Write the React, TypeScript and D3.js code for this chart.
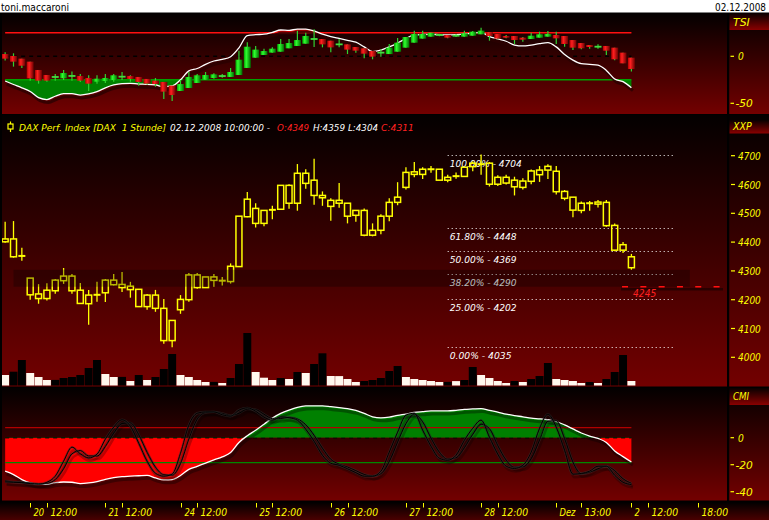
import React from "react";
import * as d3 from "d3";

const W = 769;
const H = 520;

// ---------- categories (hourly session slots) ----------
const days = ["2008-11-19", "2008-11-20", "2008-11-21", "2008-11-24", "2008-11-25", "2008-11-26", "2008-11-27", "2008-11-28", "2008-12-01", "2008-12-02"];
const sessionHours = ["10:00", "11:00", "12:00", "13:00", "14:00", "15:00", "16:00", "17:00", "18:00"];
const slots = days.flatMap((d) => sessionHours.map((h) => `${d} ${h}`)).slice(6);
const times = slots.slice(0, 76);

// ---------- price (DAX, 1h) ----------
const priceOpen = [4411, 4411, 4351, 4275, 4220, 4204, 4231, 4266, 4282, 4233, 4186, 4216, 4224, 4268, 4253, 4247, 4236, 4176, 4216, 4170, 4058, 4165, 4200, 4286, 4242, 4279, 4267, 4263, 4315, 4488, 4517, 4465, 4509, 4514, 4597, 4535, 4639, 4615, 4562, 4545, 4535, 4535, 4493, 4510, 4424, 4441, 4490, 4538, 4590, 4635, 4635, 4652, 4653, 4615, 4626, 4628, 4662, 4669, 4674, 4601, 4625, 4615, 4590, 4611, 4634, 4650, 4646, 4576, 4556, 4510, 4534, 4532, 4538, 4458, 4372, 4349];
const priceHigh = [4471, 4473, 4380, 4275, 4254, 4257, 4272, 4310, 4289, 4258, 4234, 4262, 4272, 4289, 4296, 4262, 4236, 4220, 4234, 4202, 4128, 4216, 4293, 4293, 4279, 4289, 4279, 4326, 4490, 4574, 4535, 4510, 4526, 4597, 4601, 4671, 4653, 4689, 4576, 4552, 4605, 4535, 4510, 4517, 4465, 4497, 4552, 4608, 4660, 4678, 4660, 4664, 4653, 4634, 4642, 4660, 4680, 4704, 4678, 4632, 4634, 4627, 4622, 4652, 4664, 4670, 4664, 4581, 4556, 4541, 4543, 4546, 4546, 4465, 4400, 4359];
const priceLow = [4398, 4346, 4335, 4200, 4186, 4197, 4221, 4255, 4221, 4187, 4113, 4193, 4192, 4249, 4227, 4207, 4176, 4165, 4158, 4047, 4035, 4151, 4193, 4238, 4242, 4245, 4249, 4256, 4315, 4486, 4451, 4455, 4479, 4514, 4516, 4509, 4585, 4530, 4526, 4474, 4519, 4465, 4471, 4420, 4420, 4427, 4472, 4528, 4583, 4625, 4619, 4641, 4615, 4608, 4620, 4628, 4646, 4634, 4593, 4595, 4600, 4562, 4583, 4601, 4609, 4619, 4565, 4545, 4486, 4500, 4509, 4520, 4453, 4368, 4362, 4304];
const priceClose = [4401, 4349, 4353, 4217, 4204, 4233, 4268, 4282, 4231, 4187, 4216, 4218, 4268, 4252, 4242, 4235, 4176, 4216, 4170, 4058, 4128, 4201, 4286, 4242, 4279, 4267, 4265, 4316, 4490, 4549, 4465, 4510, 4515, 4597, 4535, 4639, 4604, 4562, 4554, 4524, 4545, 4490, 4510, 4424, 4441, 4490, 4538, 4556, 4642, 4644, 4653, 4654, 4615, 4625, 4632, 4660, 4674, 4672, 4601, 4625, 4605, 4592, 4612, 4647, 4650, 4663, 4575, 4552, 4511, 4535, 4536, 4539, 4457, 4372, 4391, 4311];

const volume = [1050, 1380, 2550, 1250, 850, 550, 560, 750, 850, 1050, 1750, 2550, 1150, 850, 860, 450, 1050, 550, 850, 1650, 3150, 1050, 850, 550, 350, 360, 250, 750, 2150, 5250, 1350, 780, 550, 750, 650, 1350, 1250, 2150, 3220, 950, 940, 650, 350, 450, 550, 750, 1450, 1950, 850, 650, 550, 450, 350, 360, 440, 550, 1850, 1050, 750, 450, 250, 450, 350, 650, 950, 2250, 650, 550, 450, 250, 350, 250, 650, 1350, 3050, 450];
const volumeRising = [0, 1, 1, 0, 0, 0, 1, 1, 1, 1, 1, 1, 0, 0, 1, 0, 1, 0, 1, 1, 1, 0, 0, 0, 0, 1, 0, 1, 1, 1, 0, 0, 0, 1, 0, 1, 0, 1, 1, 0, 0, 0, 0, 1, 1, 1, 1, 1, 0, 0, 0, 0, 0, 1, 0, 1, 1, 0, 0, 0, 0, 1, 0, 1, 1, 1, 0, 0, 0, 0, 1, 0, 1, 1, 1, 0];

// Fibonacci retracement + zone
const fibLow = 4035;
const fibHigh = 4704;
const fibPct = [100, 61.8, 50, 38.2, 25, 0];
const fibSpan = ["2008-11-27 15:00", "2008-12-02 15:00"];
const zoneLow = 4245;
const zoneHigh = 4304;
const zoneSpan = ["2008-11-19 17:00", "2008-12-02 17:00"];
const alertLevel = 4245;
const alertStart = "2008-12-01 18:00";

const priceTicks = [4000, 4100, 4200, 4300, 4400, 4500, 4600, 4700];

// ---------- TSI panel ----------
const tsiOpen = [2.4, 0.3, -2.5, -5.7, -14.6, -19.9, -22.2, -23.4, -20.2, -21.0, -23.1, -27.0, -26.3, -25.2, -21.9, -21.0, -22.0, -24.1, -25.9, -27.3, -31.2, -36.9, -33.7, -28.4, -24.9, -23.1, -21.2, -22.0, -19.9, -12.4, -1.5, 1.4, 3.9, 4.9, 8.5, 11.0, 13.4, 18.2, 18.4, 16.6, 12.5, 12.7, 9.9, 8.5, 5.6, 3.7, 2.4, 4.9, 9.2, 14.5, 18.8, 20.9, 22.5, 22.7, 21.7, 20.9, 21.9, 23.4, 25.5, 23.7, 21.6, 21.6, 19.8, 18.4, 19.8, 20.9, 22.7, 21.6, 17.3, 14.1, 12.0, 10.0, 11.0, 9.2, 3.9, -1.5];
const tsiHigh = [4.2, 3.2, -2.5, -5.7, -14.6, -19.9, -18.8, -14.6, -16.3, -18.8, -20.2, -20.2, -18.8, -18.8, -16.7, -20.2, -22.0, -24.1, -23.1, -27.3, -31.2, -25.2, -16.7, -18.8, -16.7, -18.1, -18.8, -12.4, 6.0, 14.9, 11.0, 8.1, 9.5, 18.4, 18.4, 27.3, 25.1, 28.7, 18.4, 16.6, 18.4, 12.7, 9.9, 8.5, 5.6, 7.4, 13.1, 19.5, 20.5, 27.3, 27.3, 25.1, 24.0, 22.7, 23.4, 27.3, 26.9, 30.5, 25.5, 23.7, 22.7, 21.6, 20.5, 25.1, 26.2, 26.9, 26.2, 21.6, 17.3, 14.1, 12.0, 12.7, 11.0, 9.2, 3.9, -1.5];
const tsiLow = [-4.6, -11.0, -12.4, -25.9, -29.1, -27.0, -25.9, -25.2, -25.9, -27.3, -36.9, -29.1, -28.4, -27.0, -25.2, -27.0, -31.2, -30.2, -32.3, -45.4, -47.6, -36.9, -33.7, -28.4, -24.9, -24.0, -22.7, -22.0, -19.9, -12.4, -1.5, 1.4, 3.9, 4.9, 8.5, 11.0, 13.4, 9.9, 9.5, 4.2, 9.5, 2.4, 3.9, -2.2, -3.2, -0.4, 2.4, 4.9, 9.2, 14.5, 18.8, 20.9, 21.2, 19.1, 20.5, 20.9, 21.9, 23.4, 16.6, 18.1, 19.1, 13.1, 15.6, 18.4, 19.8, 20.9, 13.1, 10.2, 6.7, 7.4, 8.1, 8.1, 1.4, -4.3, -7.5, -16.3];
const tsiClose = [-2.5, -5.7, -10.0, -23.4, -25.9, -25.9, -21.8, -17.8, -21.6, -25.9, -29.1, -23.8, -23.1, -20.2, -21.5, -24.1, -27.3, -29.1, -29.5, -37.6, -41.2, -29.5, -22.0, -20.2, -19.9, -19.2, -20.8, -16.7, -3.6, 10.2, 7.1, 5.6, 8.1, 13.1, 14.1, 17.3, 21.6, 18.6, 12.7, 9.5, 12.9, 7.1, 6.0, 2.8, -0.4, 4.1, 9.2, 14.5, 20.5, 23.7, 23.7, 25.1, 22.9, 19.8, 22.1, 24.4, 26.2, 27.3, 21.6, 18.8, 19.8, 17.3, 17.7, 21.9, 23.4, 23.7, 19.1, 13.1, 9.2, 8.5, 9.9, 10.4, 6.0, -3.2, -7.5, -13.5];
const tsiLine = [-26.3, -30, -33.5, -37.5, -44, -46, -42.5, -39.8, -39.8, -41.2, -40, -37.5, -33.5, -30.5, -29, -28.7, -29.6, -29.8, -30.5, -32.3, -31.5, -25, -15.5, -13, -8.5, -5, -3.2, -0.4, 9, 22, 23, 23.5, 25.5, 28, 27.5, 29, 29, 27, 23.5, 21, 19, 17, 15, 10, 5, 6.5, 10, 14, 19, 22.7, 23.2, 23.4, 23, 22.7, 23, 23.6, 24.8, 25.5, 21, 18.5, 16, 12, 11, 12, 13.5, 14.5, 10, 2, -4, -7.8, -8.6, -9.3, -15, -24.1, -27, -33.4];
const tsiLevels = [25, -25];
const tsiTicks = [0, -50];

// ---------- CMI panel ----------
const cmiLine = [-24.8, -27.3, -31, -33.5, -34.5, -34.5, -33.2, -32.8, -33, -34, -33.5, -32.5, -30.8, -29.5, -28.8, -28.5, -28.2, -27.9, -29.8, -31.2, -31, -28, -23.5, -21.2, -18.8, -16.5, -14.2, -11, -3.5, 1.5, 5.5, 10, 14.5, 18, 20.5, 22.5, 23.5, 23.6, 23.6, 23, 22.3, 21.5, 20.2, 18, 15.5, 14.7, 15.2, 16.5, 17.5, 18.7, 19.3, 19.8, 19.8, 19.8, 20.3, 21, 21.3, 21.6, 20.2, 19, 17.5, 16.4, 15.5, 14.5, 14, 13.3, 12, 9.5, 6.5, 3.5, 1.2, -0.5, -3.5, -9.8, -14, -18];
const oscK = [-32.7, -33, -33.3, -34, -34.4, -33, -28.5, -17.4, -7, -11.9, -15, -12.2, -1.1, 7.8, 13.3, 8.5, -4.1, -17.4, -26.3, -28.5, -27, -11.5, 9.3, 18.1, 19.1, 19.1, 17, 15.9, 20.4, 22.1, 19.6, 15.2, 13, 15.4, 14.8, 13, 6.3, -2.6, -13, -18.9, -20.4, -23, -25.9, -28.5, -28.5, -24.8, -10.7, 4.1, 16.7, 18.1, 5.6, -6.3, -15.2, -16.7, -13, -1.9, 7, 13, 0.4, -12.2, -21.1, -22.8, -20.4, -10.7, 7, 17.4, 7.8, -9.3, -27, -26.5, -24.8, -21.1, -21.1, -27.8, -33, -34.7];
const oscD = [-32, -32.8, -33.1, -33.6, -34.2, -33.8, -31, -23, -12, -9.5, -13.5, -13.6, -6.5, 3.4, 10.5, 11, 2.2, -10.8, -21.8, -27.4, -27.8, -19.2, -1, 13.7, 18.6, 19.1, 18, 16.5, 18.1, 21.2, 20.8, 17.4, 14.1, 14.2, 15.1, 13.9, 9.6, 1.8, -7.8, -16, -19.6, -21.7, -24.4, -27.2, -28.5, -26.6, -17.7, -3.3, 10.4, 17.4, 11.8, -0.3, -10.7, -15.9, -14.8, -7.4, 2.5, 10, 6.7, -5.9, -16.6, -21.9, -21.6, -15.5, -1.8, 12.2, 12.6, -0.7, -18.1, -26.7, -25.6, -23, -21.1, -24.4, -30.4, -33.8];
const cmiLevels = [7.5, -18.5];
const cmiTicks = [0, -20, -40];

// ---------- x axis ticks ----------
const xTicks: [string, string][] = [
  ["2008-11-20 10:00", "20"], ["2008-11-20 12:00", "12:00"],
  ["2008-11-21 10:00", "21"], ["2008-11-21 12:00", "12:00"],
  ["2008-11-24 10:00", "24"], ["2008-11-24 12:00", "12:00"],
  ["2008-11-25 10:00", "25"], ["2008-11-25 12:00", "12:00"],
  ["2008-11-26 10:00", "26"], ["2008-11-26 12:00", "12:00"],
  ["2008-11-27 10:00", "27"], ["2008-11-27 12:00", "12:00"],
  ["2008-11-28 10:00", "28"], ["2008-11-28 12:00", "12:00"],
  ["2008-12-01 10:00", "Dez"], ["2008-12-01 13:00", "13:00"],
  ["2008-12-02 10:00", "2"], ["2008-12-02 12:00", "12:00"],
  ["2008-12-02 18:00", "18:00"],
];

const userName = "toni.maccaroni";
const chartDate = "02.12.2008";
const instrument = "DAX Perf. Index [DAX  1 Stunde]";
const lastStamp = "02.12.2008 10:00:00 -";

// ---------- layout ----------
const PLOT_R = 727;
const TSI_TOP = 13, TSI_BOT = 114;
const MAIN_TOP = 115, MAIN_BOT = 386.5;
const CMI_TOP = 388, CMI_BOT = 500.5;
const AX_TOP = 502;

const FONT = "'DejaVu Sans', 'Liberation Sans', sans-serif";
const NARROW = "'DejaVu Sans Condensed', 'Liberation Sans Narrow', sans-serif";
const YEL = "#ffff00";

const x = d3.scalePoint<string>().domain(slots).range([5.15, 698.2]);
const step = x.step();
const yP = d3.scaleLinear().domain([4000, 4700]).range([357.3, 155.7]);
const yV = d3.scaleLinear().domain([0, 6000]).range([385.5, 325.5]);
const yT = d3.scaleLinear().domain([-50, 0]).range([103.3, 56.3]);
const yC = d3.scaleLinear().domain([-40, 0]).range([491.7, 437.7]);

const X = (i: number) => x(times[i]) as number;

function ItalicText(props: { x: number; y: number; text: string; fill: string; size?: number; cw?: number; w?: number }) {
  const { size = 10, cw = 5.4 } = props;
  return (
    <text x={props.x} y={props.y} fill={props.fill} fontFamily={FONT} fontStyle="italic" fontSize={size}
      textLength={props.w ?? props.text.length * cw} lengthAdjust="spacingAndGlyphs" style={{ whiteSpace: "pre" }}>
      {props.text}
    </text>
  );
}

export default function App() {
  const tsiLineGen = d3.line<number>().x((_, i) => X(i)).y((d) => yT(d)).curve(d3.curveMonotoneX);
  const tsiArea = (base: number) => d3.area<number>().x((_, i) => X(i)).y0(yT(base)).y1((d) => yT(d)).curve(d3.curveMonotoneX)(tsiLine) as string;
  const cmiLineGen = d3.line<number>().x((_, i) => X(i)).y((d) => yC(d)).curve(d3.curveMonotoneX);
  const cmiArea = d3.area<number>().x((_, i) => X(i)).y0(yC(0)).y1((d) => yC(d)).curve(d3.curveMonotoneX)(cmiLine) as string;
  const x0 = X(0);
  const x1 = X(times.length - 1);

  const fx0 = x(fibSpan[0]) as number;
  const fx1 = x(fibSpan[1]) as number;
  const last = times.length - 1;

  return (
    <svg width={W} height={H} style={{ display: "block", position: "absolute", left: 0, top: 0 }}>
      <defs>
        <linearGradient id="panelGrad" x1="0" y1="0" x2="0" y2="1">
          <stop offset="0" stopColor="#030000" />
          <stop offset="1" stopColor="#730000" />
        </linearGradient>
        <linearGradient id="axisGrad" x1="0" y1="0" x2="0" y2="1">
          <stop offset="0" stopColor="#000000" />
          <stop offset="1" stopColor="#4a0000" />
        </linearGradient>
        <linearGradient id="boxGrad" x1="0" y1="0" x2="0" y2="1">
          <stop offset="0" stopColor="#080000" />
          <stop offset="1" stopColor="#8a0000" />
        </linearGradient>
        <linearGradient id="gGreen" x1="0" y1="0" x2="1" y2="0">
          <stop offset="0" stopColor="#00a000" />
          <stop offset="0.35" stopColor="#30ff30" />
          <stop offset="1" stopColor="#006800" />
        </linearGradient>
        <linearGradient id="gRed" x1="0" y1="0" x2="1" y2="0">
          <stop offset="0" stopColor="#b00000" />
          <stop offset="0.35" stopColor="#ff2020" />
          <stop offset="1" stopColor="#6a0000" />
        </linearGradient>
        <clipPath id="tsiBelow"><rect x={0} y={yT(-25)} width={PLOT_R} height={TSI_BOT - yT(-25)} /></clipPath>
        <clipPath id="tsiAbove"><rect x={0} y={TSI_TOP} width={PLOT_R} height={yT(25) - TSI_TOP} /></clipPath>
        <clipPath id="cmiAbove"><rect x={0} y={CMI_TOP} width={PLOT_R} height={yC(0) - CMI_TOP} /></clipPath>
        <clipPath id="cmiBelow"><rect x={0} y={yC(0)} width={PLOT_R} height={CMI_BOT - yC(0)} /></clipPath>
        <clipPath id="plotClip"><rect x={2} y={0} width={PLOT_R - 2} height={H} /></clipPath>
      </defs>

      {/* background */}
      <rect x={0} y={0} width={W} height={H} fill="#000" />
      <rect x={0} y={0} width={W} height={12.5} fill="#fff" />
      <text x={1} y={11} fontFamily={NARROW} fontSize={11} fill="#000" textLength={68} lengthAdjust="spacingAndGlyphs">{userName}</text>
      <text x={715} y={11} fontFamily={NARROW} fontSize={10} fill="#000" textLength={51} lengthAdjust="spacingAndGlyphs">{chartDate}</text>

      {/* panels */}
      <rect x={2} y={TSI_TOP} width={W - 2} height={TSI_BOT - TSI_TOP} fill="url(#panelGrad)" />
      <rect x={2} y={MAIN_TOP} width={W - 2} height={MAIN_BOT - MAIN_TOP} fill="url(#panelGrad)" />
      <rect x={2} y={CMI_TOP} width={W - 2} height={CMI_BOT - CMI_TOP} fill="url(#panelGrad)" />
      <rect x={0} y={AX_TOP} width={W} height={H - AX_TOP} fill="url(#axisGrad)" />
      <rect x={PLOT_R} y={TSI_TOP} width={2.2} height={CMI_BOT - TSI_TOP + 1} fill="#000" />

      {/* label boxes */}
      <rect x={729.5} y={TSI_TOP} width={W - 729.5} height={17} fill="url(#boxGrad)" />
      <rect x={729.5} y={120} width={W - 729.5} height={13.5} fill="url(#boxGrad)" />
      <rect x={729.5} y={CMI_TOP} width={W - 729.5} height={17} fill="url(#boxGrad)" />
      <ItalicText x={733} y={25.5} text="TSI" fill={YEL} cw={5.6} />
      <ItalicText x={733} y={130} text="XXP" fill={YEL} cw={6.2} />
      <ItalicText x={733} y={400} text="CMI" fill={YEL} cw={5.4} />

      {/* ================= TSI panel ================= */}
      <g clipPath="url(#plotClip)">
        <path d={tsiArea(-25)} fill="#008000" clipPath="url(#tsiBelow)" />
        <path d={tsiArea(25)} fill="#d00000" clipPath="url(#tsiAbove)" />
        <line x1={x0} x2={x1} y1={yT(tsiLevels[0])} y2={yT(tsiLevels[0])} stroke="#ff1010" strokeWidth={1.5} />
        <line x1={x0} x2={x1} y1={yT(tsiLevels[1])} y2={yT(tsiLevels[1])} stroke="#00a000" strokeWidth={1.5} />
        <line x1={x0} x2={x1} y1={yT(0)} y2={yT(0)} stroke="#000" strokeWidth={1.5} strokeDasharray="4 4" />
        <path d={tsiLineGen(tsiLine) as string} fill="none" stroke="#2a0000" strokeOpacity={0.8} strokeWidth={3} transform="translate(1.5,3)" />
        <path d={tsiLineGen(tsiLine) as string} fill="none" stroke="#fff" strokeWidth={1.3} />
        {times.map((t, i) => {
          const cx = X(i);
          const o = tsiOpen[i], c = tsiClose[i];
          const up = c >= o;
          const top = yT(Math.max(o, c));
          const bot = yT(Math.min(o, c));
          return (
            <g key={"t" + i}>
              <line x1={cx} x2={cx} y1={yT(tsiHigh[i])} y2={yT(tsiLow[i])} stroke="#30d030" strokeWidth={1.2} />
              {bot - top < 1.5 ? (
                <line x1={cx - 3.5} x2={cx + 3.5} y1={(top + bot) / 2} y2={(top + bot) / 2} stroke="#40e040" strokeWidth={1.8} />
              ) : (
                <rect x={cx - 3.5} y={top} width={7} height={bot - top} fill={up ? "url(#gGreen)" : "url(#gRed)"} />
              )}
            </g>
          );
        })}
      </g>
      {tsiTicks.map((v) => (
        <g key={"tt" + v}>
          <line x1={730.5} x2={734} y1={yT(v)} y2={yT(v)} stroke={YEL} strokeWidth={1.2} />
          <ItalicText x={v < 0 ? 735.5 : 738} y={yT(v) + 4} text={String(v)} fill={YEL} cw={5.8} />
        </g>
      ))}

      {/* ================= Main panel ================= */}
      <rect x={8} y={124} width={5} height={5} fill="none" stroke={YEL} strokeWidth={1.2} />
      <line x1={10.5} x2={10.5} y1={121.5} y2={124} stroke={YEL} strokeWidth={1.2} />
      <line x1={10.5} x2={10.5} y1={129} y2={132} stroke={YEL} strokeWidth={1.2} />
      <ItalicText x={19} y={131} text={instrument} fill={YEL} w={147} size={9} />
      <ItalicText x={170} y={131} text={lastStamp} fill="#fff" w={100} size={9} />
      <ItalicText x={277} y={131} text={`O:${priceOpen[last]}`} fill="#ff2020" w={32} size={9} />
      <ItalicText x={313} y={131} text={`H:${priceHigh[last]}`} fill="#fff" w={32} size={9} />
      <ItalicText x={348} y={131} text={`L:${priceLow[last]}`} fill="#fff" w={30} size={9} />
      <ItalicText x={381} y={131} text={`C:${priceClose[last]}`} fill="#ff2020" w={33} size={9} />

      <g clipPath="url(#plotClip)">
        {/* volume */}
        {volume.map((v, i) => (
          <rect key={"v" + i} x={X(i) - step / 2 + 0.2} y={yV(v)} width={step - 0.4} height={yV(0) - yV(v)}
            fill={volumeRising[i] ? "#000" : "#fff8ee"} />
        ))}

        {/* fibonacci */}
        {fibPct.map((p) => {
          const val = fibLow + (p / 100) * (fibHigh - fibLow);
          const yy = Math.round(yP(val)) + 0.5;
          const label = `${p.toFixed(2)}% - ${Math.floor(val)}`;
          return (
            <g key={"f" + p}>
              <line x1={fx0} x2={fx1} y1={yy} y2={yy} stroke="#fff" strokeWidth={1} strokeDasharray="1 3" />
              <ItalicText x={fx0 + 2} y={yy + 11.5} text={label} fill="#fff" size={9.5} cw={5.15} />
            </g>
          );
        })}

        {/* candles */}
        {times.map((t, i) => {
          const cx = X(i);
          const o = priceOpen[i], c = priceClose[i];
          const top = yP(Math.max(o, c));
          const bot = yP(Math.min(o, c));
          const doji = bot - top < 2;
          return (
            <g key={"c" + i} stroke={YEL}>
              {doji ? (
                <>
                  <line x1={cx} x2={cx} y1={yP(priceHigh[i])} y2={yP(priceLow[i])} strokeWidth={1.3} />
                  <line x1={cx - 3.5} x2={cx + 3.5} y1={(top + bot) / 2} y2={(top + bot) / 2} strokeWidth={2} />
                </>
              ) : (
                <>
                  <line x1={cx} x2={cx} y1={yP(priceHigh[i])} y2={top} strokeWidth={1.3} />
                  <line x1={cx} x2={cx} y1={bot} y2={yP(priceLow[i])} strokeWidth={1.3} />
                  <rect x={cx - 3} y={top} width={6} height={bot - top} fill="none" strokeWidth={1.5} />
                </>
              )}
            </g>
          );
        })}

        {/* zone band */}
        <rect x={x(zoneSpan[0]) as number} y={yP(zoneHigh)} width={(x(zoneSpan[1]) as number) - (x(zoneSpan[0]) as number)}
          height={yP(zoneLow) - yP(zoneHigh)} fill="#000" fillOpacity={0.28} />

        {/* alert line */}
        <line x1={(x(alertStart) as number) - 2} x2={723} y1={yP(alertLevel) + 2.5} y2={yP(alertLevel) + 2.5} stroke="#000" strokeOpacity={0.45} strokeWidth={2.5} />
        <line x1={(x(alertStart) as number) - 1} x2={723} y1={yP(alertLevel)} y2={yP(alertLevel)} stroke="#ff1010" strokeWidth={1.5} strokeDasharray="6 12.3" />
        <ItalicText x={(x(alertStart) as number) + 10} y={yP(alertLevel) + 10} text={String(alertLevel)} fill="#ff2020" size={10} cw={5.8} />
      </g>
      {priceTicks.map((v) => (
        <g key={"pt" + v}>
          <line x1={731} x2={735} y1={yP(v)} y2={yP(v)} stroke={YEL} strokeWidth={1.2} />
          <ItalicText x={738} y={yP(v) + 4} text={String(v)} fill={YEL} cw={5.7} />
        </g>
      ))}

      {/* ================= CMI panel ================= */}
      <g clipPath="url(#plotClip)">
        <path d={cmiArea} fill="#ff0000" clipPath="url(#cmiBelow)" />
        <line x1={x0} x2={x1} y1={yC(0)} y2={yC(0)} stroke="#000" strokeWidth={1.5} strokeDasharray="4 4" strokeOpacity={0.8} />
        <path d={cmiArea} fill="#008000" clipPath="url(#cmiAbove)" />
        <line x1={x0} x2={x1} y1={yC(cmiLevels[0])} y2={yC(cmiLevels[0])} stroke="#b00000" strokeWidth={1.2} />
        <line x1={x0} x2={x1} y1={yC(cmiLevels[1])} y2={yC(cmiLevels[1])} stroke="#008800" strokeWidth={1.2} />
        <path d={cmiLineGen(cmiLine) as string} fill="none" stroke="#000" strokeOpacity={0.35} strokeWidth={3} transform="translate(1.5,3)" />
        <path d={cmiLineGen(cmiLine) as string} fill="none" stroke="#fff" strokeWidth={1.3} />
        {[oscD, oscK].map((arr, k) => (
          <g key={"osc" + k}>
            <path d={cmiLineGen(arr) as string} fill="none" stroke="#000" strokeOpacity={0.25} strokeWidth={2.5} transform="translate(1.5,3)" />
            <path d={cmiLineGen(arr) as string} fill="none" stroke="#333" strokeOpacity={0.5} strokeWidth={2.4} />
            <path d={cmiLineGen(arr) as string} fill="none" stroke="#000" strokeWidth={1} />
          </g>
        ))}
      </g>
      {cmiTicks.map((v) => (
        <g key={"ct" + v}>
          <line x1={730.5} x2={734} y1={yC(v)} y2={yC(v)} stroke={YEL} strokeWidth={1.2} />
          <ItalicText x={v < 0 ? 735.5 : 738} y={yC(v) + 4} text={String(v)} fill={YEL} cw={5.8} />
        </g>
      ))}

      {/* ================= x axis ================= */}
      {xTicks.map(([t, label], i) => {
        const xx = Math.round(x(t) as number) + 0.5;
        return (
          <g key={"xt" + i}>
            <line x1={xx} x2={xx} y1={503} y2={507.5} stroke={YEL} strokeWidth={1} />
            <ItalicText x={xx + 3} y={516} text={label} fill={YEL} cw={5.3} />
          </g>
        );
      })}
    </svg>
  );
}
